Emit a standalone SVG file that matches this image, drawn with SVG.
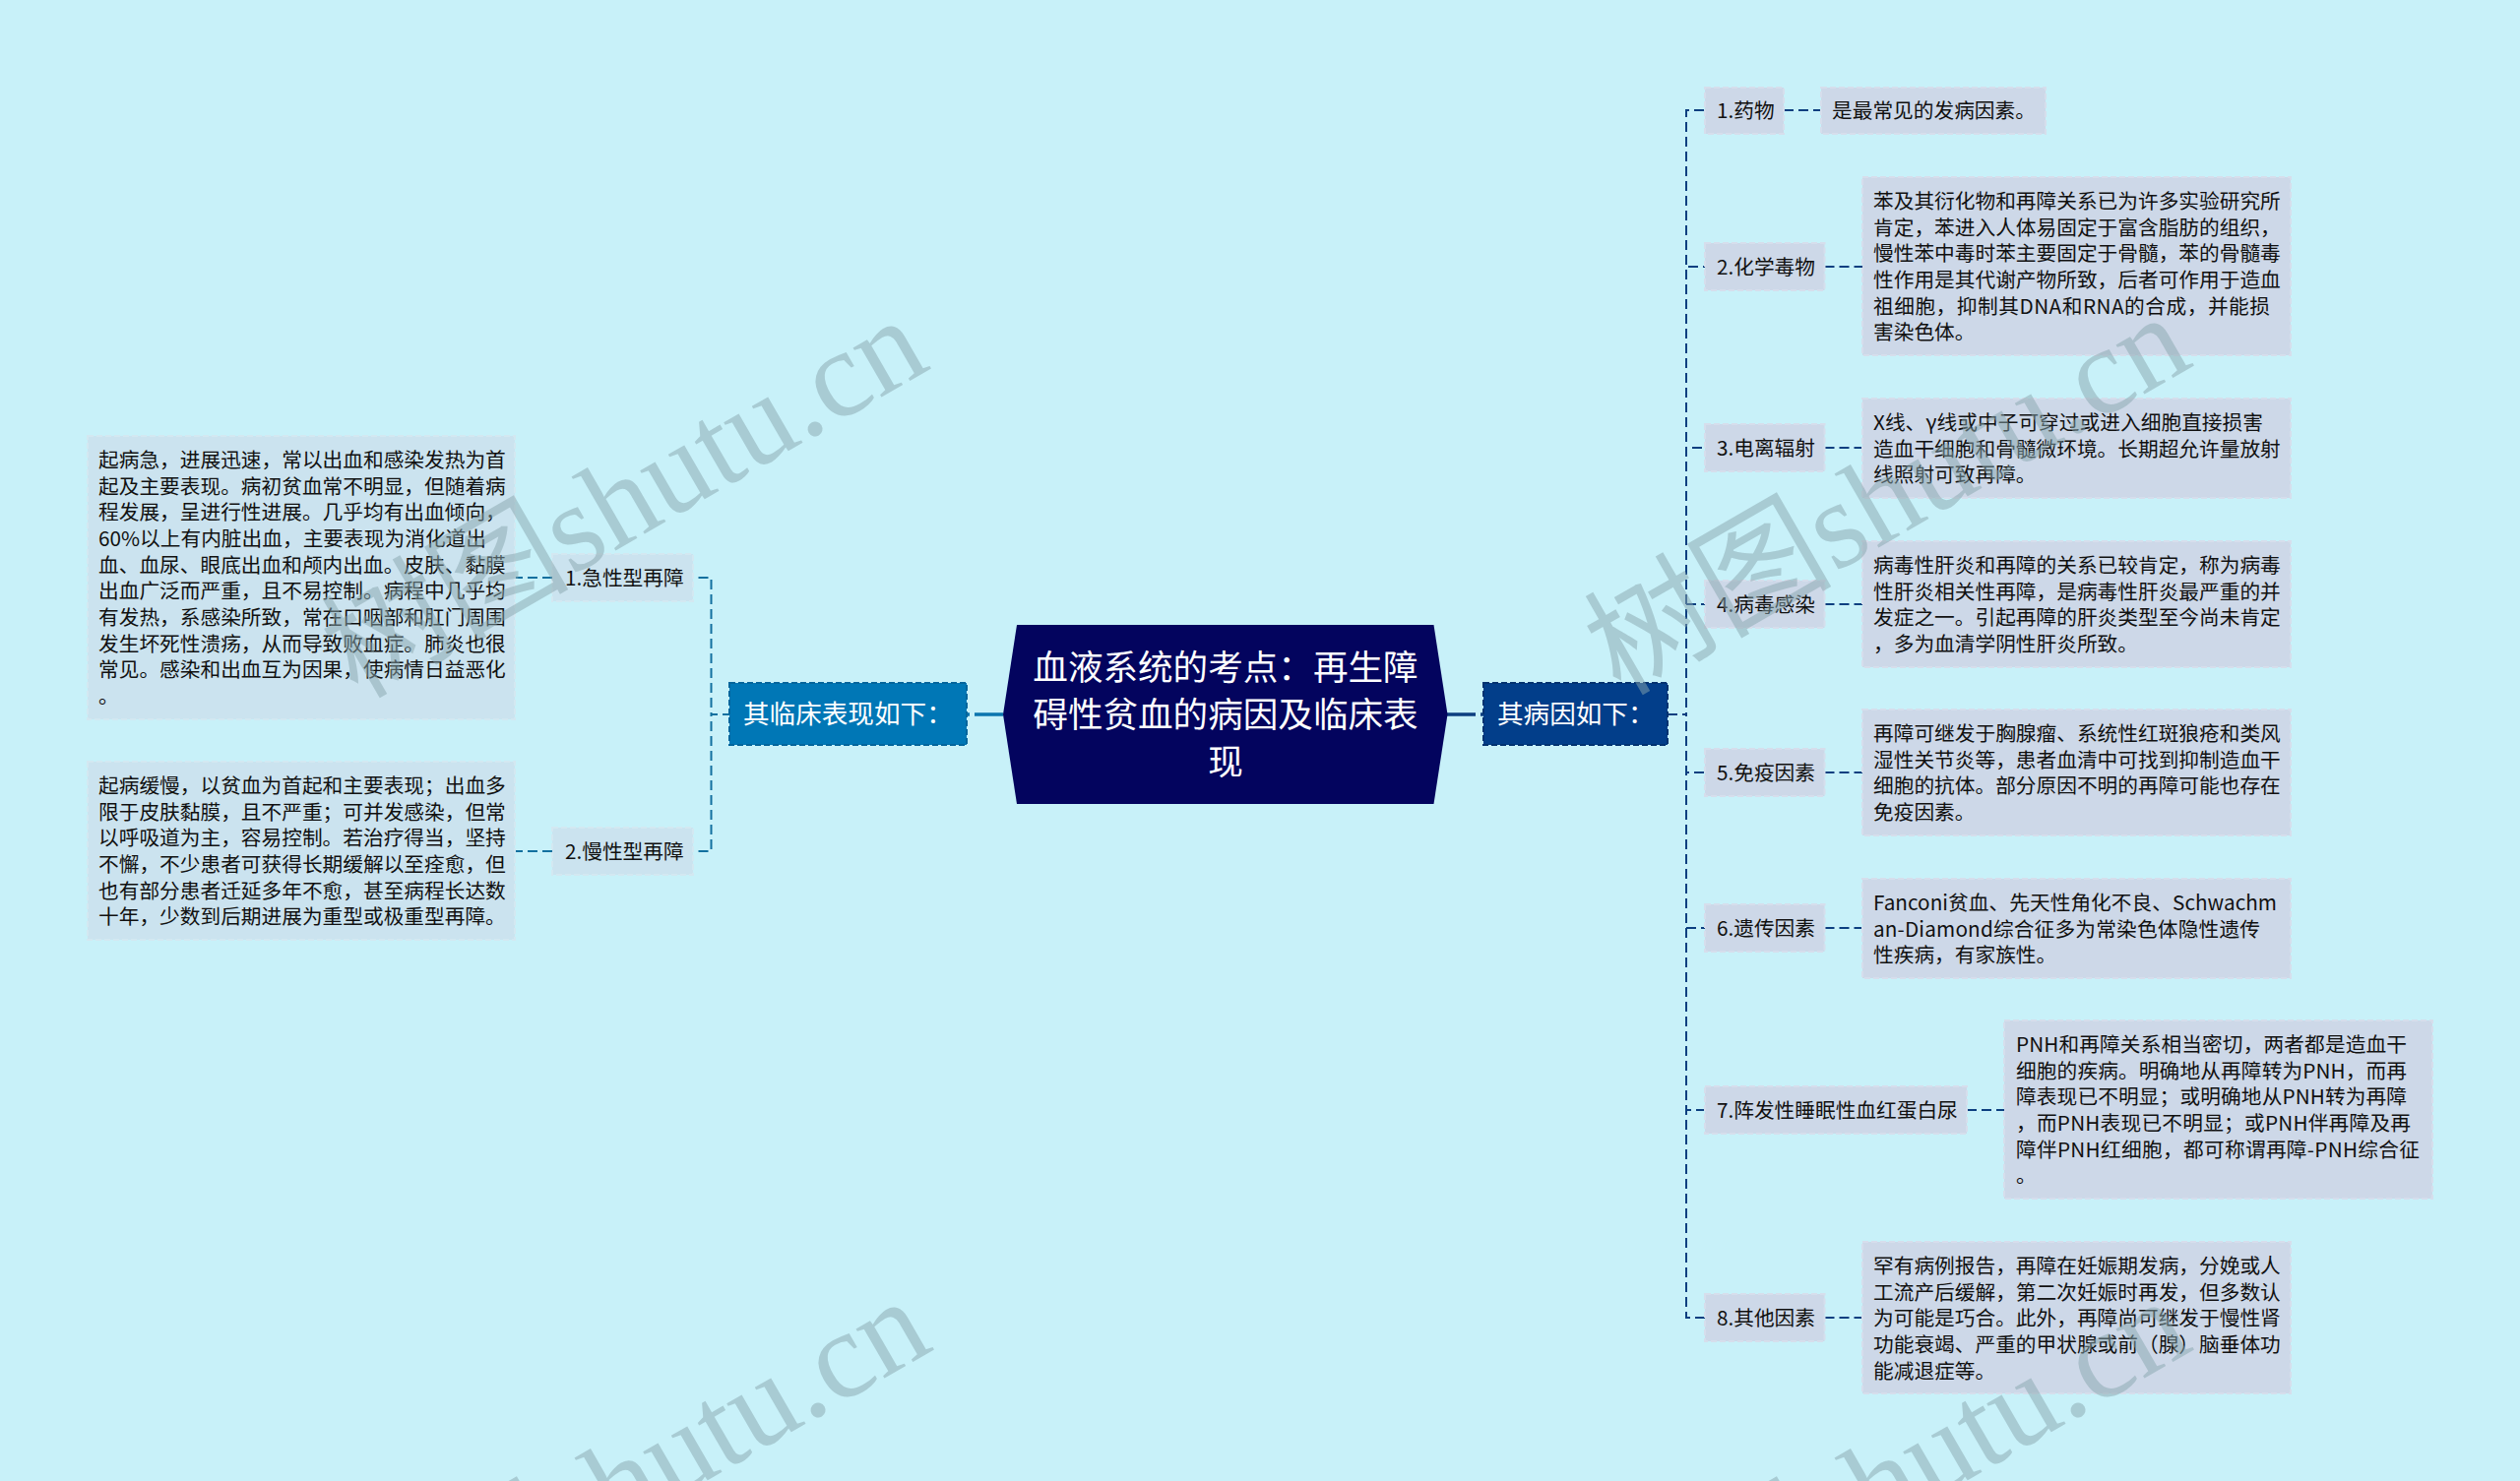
<svg xmlns="http://www.w3.org/2000/svg" width="2560" height="1505" viewBox="0 0 2560 1505">
<style>
text{font-family:"Noto Sans CJK SC","Liberation Sans",sans-serif;fill:#111}
.d{font-size:20.7px}
.n{font-size:20.7px}
.h{font-size:26.6px;fill:#fff}
.r{font-size:35.6px;fill:#fff;text-anchor:middle}
.bl{fill:#cbe3ef;stroke:#d3e8f1;stroke-width:2;stroke-dasharray:6 3}
.br{fill:#cdd8e8;stroke:#d6deec;stroke-width:2;stroke-dasharray:6 3}
.cl{fill:none;stroke:#12709f;stroke-width:2;stroke-dasharray:10 5}
.cr{fill:none;stroke:#0c3f80;stroke-width:2;stroke-dasharray:10 5}
.wm{font-family:"Liberation Serif","Noto Sans CJK SC",serif;font-size:126px;word-spacing:-32px;fill:#88a5ad;fill-opacity:.5}
</style>
<rect width="2560" height="1505" fill="#c8f1f9"/>
<g id="connectors">
<path class="cl" stroke-dashoffset="8" d="M722.500 726V587H704M722.500 726V865H704"/>
<path class="cl" stroke-dashoffset="3" d="M741 726H722.500"/>
<path class="cl" d="M561 587H523M561 865H523"/>
<path class="cr" d="M1694 726H1713"/>
<path class="cr" stroke-dashoffset="8" d="M1713 726V112H1732M1713 726V271H1732M1713 726V455H1732M1713 726V614H1732M1713 726V785H1732M1713 726V943H1732M1713 726V1128H1732M1713 726V1339H1732"/>
<path class="cr" d="M1812 112H1850M1853.500 271H1892M1853.500 455H1892M1853.500 614H1892M1853.500 785H1892M1853.500 943H1892M1998 1128H2036M1853.500 1339H1892"/>
<path d="M1019 726H982" fill="none" stroke="#0b75ae" stroke-width="3.500" stroke-dasharray="29 5"/>
<path d="M1470 726H1507" fill="none" stroke="#0c3f80" stroke-width="3.500" stroke-dasharray="29 5"/>
</g>
<g id="root"><polygon points="1033,635 1456.500,635 1470.500,726 1456.500,817 1033,817 1019,726" fill="#03045e"/>
<text class="r" x="1245" y="691">血液系统的考点：再生障</text><text class="r" x="1245" y="739">碍性贫血的病因及临床表</text><text class="r" x="1245" y="787">现</text></g>
<g id="h-left"><rect x="741" y="694" width="241" height="63" fill="#0077b6" stroke="#04659c" stroke-width="2" stroke-dasharray="6 3"/><text class="h" x="755" y="735">其临床表现如下：</text></g>
<g id="h-right"><rect x="1507" y="694" width="187" height="63" fill="#023e8a" stroke="#023270" stroke-width="2" stroke-dasharray="6 3"/><text class="h" x="1521" y="735">其病因如下：</text></g>
<g id="n-acute"><rect class="bl" x="561" y="563" width="143" height="48"/><text class="n" x="574" y="595">1.急性型再障</text></g>
<g id="d-acute"><rect class="bl" x="89" y="443" width="434" height="288"/><text class="d" x="100">
<tspan x="100" y="475">起病急，进展迅速，常以出血和感染发热为首</tspan>
<tspan x="100" y="501.700">起及主要表现。病初贫血常不明显，但随着病</tspan>
<tspan x="100" y="528.300">程发展，呈进行性进展。几乎均有出血倾向，</tspan>
<tspan x="100" y="555" textLength="394">60%以上有内脏出血，主要表现为消化道出</tspan>
<tspan x="100" y="581.700">血、血尿、眼底出血和颅内出血。皮肤、黏膜</tspan>
<tspan x="100" y="608.300">出血广泛而严重，且不易控制。病程中几乎均</tspan>
<tspan x="100" y="635">有发热，系感染所致，常在口咽部和肛门周围</tspan>
<tspan x="100" y="661.700">发生坏死性溃疡，从而导致败血症。肺炎也很</tspan>
<tspan x="100" y="688.300">常见。感染和出血互为因果，使病情日益恶化</tspan>
<tspan x="100" y="715">。</tspan></text></g>
<g id="n-chronic"><rect class="bl" x="561" y="841" width="143" height="48"/><text class="n" x="574" y="873">2.慢性型再障</text></g>
<g id="d-chronic"><rect class="bl" x="89" y="774" width="434" height="181"/><text class="d">
<tspan x="100" y="806">起病缓慢，以贫血为首起和主要表现；出血多</tspan>
<tspan x="100" y="832.700">限于皮肤黏膜，且不严重；可并发感染，但常</tspan>
<tspan x="100" y="859.300">以呼吸道为主，容易控制。若治疗得当，坚持</tspan>
<tspan x="100" y="886">不懈，不少患者可获得长期缓解以至痊愈，但</tspan>
<tspan x="100" y="912.700">也有部分患者迁延多年不愈，甚至病程长达数</tspan>
<tspan x="100" y="939.300">十年，少数到后期进展为重型或极重型再障。</tspan></text></g>
<g id="n1"><rect class="br" x="1732" y="89" width="80" height="47"/><text class="n" x="1744" y="120">1.药物</text></g>
<g id="d1"><rect class="br" x="1850" y="89" width="228" height="47"/><text class="d" x="1861" y="120">是最常见的发病因素。</text></g>
<g id="n2"><rect class="br" x="1732" y="247" width="121.500" height="48"/><text class="n" x="1744" y="279">2.化学毒物</text></g>
<g id="d2"><rect class="br" x="1892" y="180" width="435" height="181"/><text class="d">
<tspan x="1903" y="212">苯及其衍化物和再障关系已为许多实验研究所</tspan>
<tspan x="1903" y="238.700">肯定，苯进入人体易固定于富含脂肪的组织，</tspan>
<tspan x="1903" y="265.300">慢性苯中毒时苯主要固定于骨髓，苯的骨髓毒</tspan>
<tspan x="1903" y="292">性作用是其代谢产物所致，后者可作用于造血</tspan>
<tspan x="1903" y="318.700" textLength="403">祖细胞，抑制其DNA和RNA的合成，并能损</tspan>
<tspan x="1903" y="345.300">害染色体。</tspan></text></g>
<g id="n3"><rect class="br" x="1732" y="431" width="121.500" height="48"/><text class="n" x="1744" y="463">3.电离辐射</text></g>
<g id="d3"><rect class="br" x="1892" y="405" width="435" height="101"/><text class="d">
<tspan x="1903" y="437" textLength="396">X线、γ线或中子可穿过或进入细胞直接损害</tspan>
<tspan x="1903" y="463.700">造血干细胞和骨髓微环境。长期超允许量放射</tspan>
<tspan x="1903" y="490.300">线照射可致再障。</tspan></text></g>
<g id="n4"><rect class="br" x="1732" y="590" width="121.500" height="48"/><text class="n" x="1744" y="622">4.病毒感染</text></g>
<g id="d4"><rect class="br" x="1892" y="550" width="435" height="128"/><text class="d">
<tspan x="1903" y="582">病毒性肝炎和再障的关系已较肯定，称为病毒</tspan>
<tspan x="1903" y="608.700">性肝炎相关性再障，是病毒性肝炎最严重的并</tspan>
<tspan x="1903" y="635.300">发症之一。引起再障的肝炎类型至今尚未肯定</tspan>
<tspan x="1903" y="662">，多为血清学阴性肝炎所致。</tspan></text></g>
<g id="n5"><rect class="br" x="1732" y="761" width="121.500" height="48"/><text class="n" x="1744" y="793">5.免疫因素</text></g>
<g id="d5"><rect class="br" x="1892" y="721" width="435" height="128"/><text class="d">
<tspan x="1903" y="753">再障可继发于胸腺瘤、系统性红斑狼疮和类风</tspan>
<tspan x="1903" y="779.700">湿性关节炎等，患者血清中可找到抑制造血干</tspan>
<tspan x="1903" y="806.300">细胞的抗体。部分原因不明的再障可能也存在</tspan>
<tspan x="1903" y="833">免疫因素。</tspan></text></g>
<g id="n6"><rect class="br" x="1732" y="919" width="121.500" height="48"/><text class="n" x="1744" y="951">6.遗传因素</text></g>
<g id="d6"><rect class="br" x="1892" y="893" width="435" height="101"/><text class="d">
<tspan x="1903" y="925" textLength="410">Fanconi贫血、先天性角化不良、Schwachm</tspan>
<tspan x="1903" y="951.700" textLength="393">an-Diamond综合征多为常染色体隐性遗传</tspan>
<tspan x="1903" y="978.300">性疾病，有家族性。</tspan></text></g>
<g id="n7"><rect class="br" x="1732" y="1104" width="266" height="48"/><text class="n" x="1744" y="1136">7.阵发性睡眠性血红蛋白尿</text></g>
<g id="d7"><rect class="br" x="2036" y="1037" width="435" height="181"/><text class="d">
<tspan x="2048" y="1069" textLength="397">PNH和再障关系相当密切，两者都是造血干</tspan>
<tspan x="2048" y="1095.700" textLength="397">细胞的疾病。明确地从再障转为PNH，而再</tspan>
<tspan x="2048" y="1122.300" textLength="397">障表现已不明显；或明确地从PNH转为再障</tspan>
<tspan x="2048" y="1149" textLength="401">，而PNH表现已不明显；或PNH伴再障及再</tspan>
<tspan x="2048" y="1175.700" textLength="410">障伴PNH红细胞，都可称谓再障-PNH综合征</tspan>
<tspan x="2048" y="1202.300">。</tspan></text></g>
<g id="n8"><rect class="br" x="1732" y="1315" width="121.500" height="48"/><text class="n" x="1744" y="1347">8.其他因素</text></g>
<g id="d8"><rect class="br" x="1892" y="1262" width="435" height="154"/><text class="d">
<tspan x="1903" y="1294">罕有病例报告，再障在妊娠期发病，分娩或人</tspan>
<tspan x="1903" y="1320.700">工流产后缓解，第二次妊娠时再发，但多数认</tspan>
<tspan x="1903" y="1347.300">为可能是巧合。此外，再障尚可继发于慢性肾</tspan>
<tspan x="1903" y="1374">功能衰竭、严重的甲状腺或前（腺）脑垂体功</tspan>
<tspan x="1903" y="1400.700">能减退症等。</tspan></text></g>
<g id="watermarks">
<text class="wm" transform="translate(363 711) rotate(-30)">树图 shutu.cn</text>
<text class="wm" transform="translate(1646 708) rotate(-30)">树图 shutu.cn</text>
<text class="wm" transform="translate(366 1708) rotate(-30)">树图 shutu.cn</text>
<text class="wm" transform="translate(1646 1708) rotate(-30)">树图 shutu.cn</text>
</g>
</svg>
